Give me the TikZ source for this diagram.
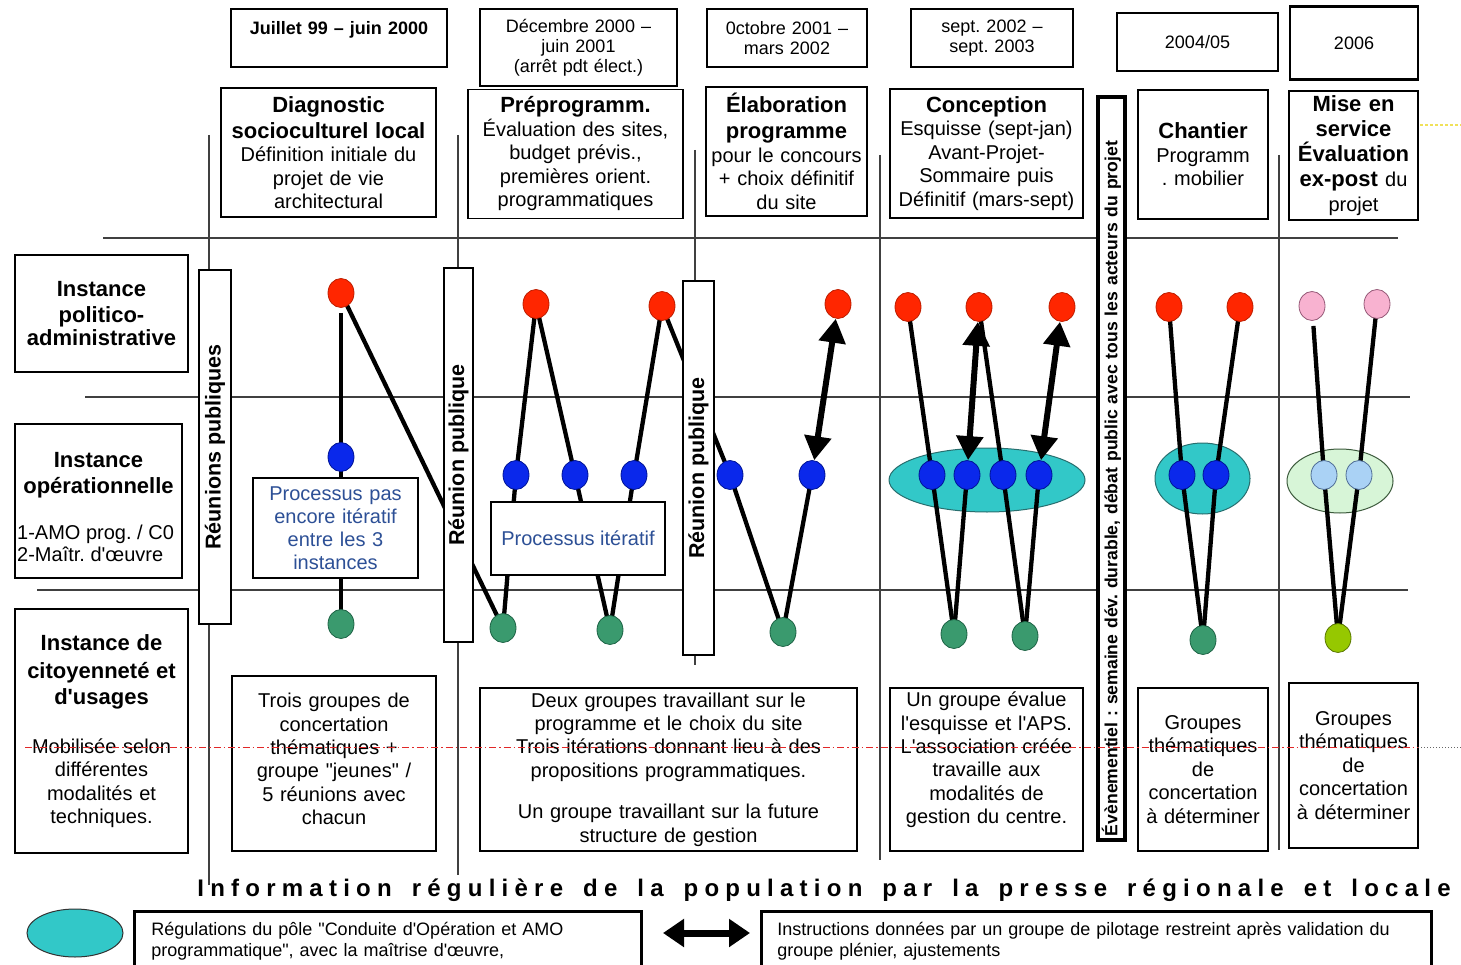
\documentclass[tikz,border=0pt]{standalone}
\usepackage{fontspec}
\setmainfont{Liberation Sans}
\newfontfamily\infofont[LetterSpace=26,WordSpace=1.55]{Liberation Sans}
\usetikzlibrary{shapes.geometric,arrows.meta}
\pgfdeclarelayer{bg}
\pgfdeclarelayer{mid}
\pgfsetlayers{bg,mid,main}
\frenchspacing
\newcommand{\myfs}[2]{\fontsize{#1}{#2}\selectfont}
\newcommand{\qd}{\textquotedbl}
\newcommand{\qs}{\textquotesingle}
\definecolor{dred}{RGB}{255,38,0}
\definecolor{dredb}{RGB}{190,30,0}
\definecolor{dblue}{RGB}{10,40,235}
\definecolor{dblueb}{RGB}{0,20,150}
\definecolor{dgreen}{RGB}{58,154,110}
\definecolor{dgreenb}{RGB}{30,100,70}
\definecolor{dpink}{RGB}{248,178,208}
\definecolor{dpinkb}{RGB}{150,90,120}
\definecolor{dlblue}{RGB}{170,210,245}
\definecolor{dlblueb}{RGB}{80,110,150}
\definecolor{dyg}{RGB}{150,200,0}
\definecolor{dygb}{RGB}{90,120,0}
\definecolor{regcyan}{RGB}{50,200,200}
\definecolor{regcyanb}{RGB}{40,110,110}
\definecolor{reglgreen}{RGB}{215,245,215}
\definecolor{reglgreenb}{RGB}{60,90,60}
\definecolor{proctext}{RGB}{45,80,150}
\definecolor{dashred}{RGB}{225,40,40}
\definecolor{yel}{RGB}{240,225,90}
\begin{document}
\begin{tikzpicture}[x=1pt,y=-1pt,
  gridline/.style={draw=black!75, line width=1.3pt},
  datebox/.style={draw, line width=2.6pt, align=center, inner sep=0pt, font=\myfs{18}{20}},
  phasebox/.style={draw, line width=1.1pt, align=center, inner sep=0pt, font=\myfs{20}{23.5}},
  labbox/.style={draw, line width=1.1pt, align=center, inner sep=0pt, font=\myfs{20}{23.5}},
  vbar/.style={draw, line width=2.4pt, fill=white, rotate=90, inner sep=0pt, font=\myfs{21.5}{24}\bfseries},
  procbox/.style={draw, line width=1.1pt, fill=white, align=center, inner sep=0pt, text=proctext, font=\myfs{20}{23}},
  descbox/.style={draw, line width=1.1pt, align=center, inner sep=0pt, font=\myfs{20}{23.4}},
  legbox/.style={draw, line width=2.6pt, anchor=north west, align=left, inner ysep=0pt, font=\myfs{18}{21}},
  dot/.style={ellipse, minimum width=26pt, minimum height=29pt, inner sep=0pt, line width=0.8pt},
  rdot/.style={dot, fill=dred, draw=dredb},
  bdot/.style={dot, fill=dblue, draw=dblueb},
  gdot/.style={dot, fill=dgreen, draw=dgreenb},
  pdot/.style={dot, fill=dpink, draw=dpinkb},
  lbdot/.style={dot, fill=dlblue, draw=dlblueb},
  ygdot/.style={dot, fill=dyg, draw=dygb},
  region/.style={ellipse, inner sep=0pt, line width=1pt},
  conn/.style={line width=4.3pt},
  dconn/.style={line width=6pt, {Triangle[width=26pt,length=24pt]}-{Triangle[width=26pt,length=24pt]}},
  legarrow/.style={line width=7pt, {Triangle[width=27pt,length=21pt]}-{Triangle[width=27pt,length=21pt]}}
]
\useasboundingbox (0,0) rectangle (1461,965);

% ---------- grid ----------
\begin{pgfonlayer}{bg}
\draw[gridline] (103,238) -- (1398,238);
\draw[gridline] (85,397) -- (1410,397);
\draw[gridline] (37,590) -- (1408,590);
\draw[gridline] (209,135) -- (209,885);
\draw[gridline] (458,135) -- (458,875);
\draw[gridline] (695,150) -- (695,665);
\draw[gridline] (880,155) -- (880,860);
\draw[gridline] (1279,155) -- (1279,850);
\end{pgfonlayer}

% ---------- date boxes ----------
\node[datebox, font=\myfs{18}{20}\bfseries, minimum width=216pt, minimum height=58pt, text width=210pt] (d1) at (339,38) {Juillet 99 – juin 2000\\\mbox{}};
\node[datebox, minimum width=197pt, minimum height=77pt, text width=190pt] (d2) at (578.5,47.5) {Décembre 2000 –\\juin 2001\\(arrêt pdt élect.)};
\node[datebox, minimum width=160pt, minimum height=58pt, text width=154pt] (d3) at (787,38) {0ctobre 2001 –\\mars 2002};
\node[datebox, minimum width=162pt, minimum height=58pt, text width=156pt] (d4) at (992,38) {sept. 2002 –\\sept. 2003};
\node[datebox, minimum width=161pt, minimum height=58pt, text height=13pt] (d5) at (1197.5,42) {2004/05};
\node[datebox, minimum width=128pt, minimum height=73pt, text height=13pt] (d6) at (1354,43) {2006};

% ---------- phase boxes ----------
\node[phasebox, minimum width=215pt, minimum height=129pt, text width=210pt] (ph1) at (328.5,152.5)
  {{\myfs{22}{26}\bfseries Diagnostic\\[2.5pt]socioculturel local}\\Définition initiale du\\projet de vie\\architectural};
\node[phasebox, minimum width=215pt, minimum height=129pt, text width=210pt] (ph2) at (575.5,154)
  {{\myfs{22}{26}\bfseries Préprogramm.}\\Évaluation des sites,\\budget prévis.,\\premières orient.\\programmatiques};
\node[phasebox, minimum width=161pt, minimum height=129pt, text width=156pt] (ph3) at (786.5,151.5)
  {{\myfs{22}{26}\bfseries Élaboration\\[2.5pt]programme}\\pour le concours\\+ choix définitif\\du site};
\node[phasebox, minimum width=193pt, minimum height=129pt, text width=188pt] (ph4) at (986.5,153.5)
  {{\myfs{22}{26}\bfseries Conception}\\Esquisse (sept-jan)\\Avant-Projet-\\Sommaire puis\\Définitif (mars-sept)};
\node[phasebox, minimum width=130pt, minimum height=129pt, text width=126pt] (ph5) at (1203,154.5)
  {{\myfs{22}{26}\bfseries Chantier}\\Programm\\. mobilier};
\node[phasebox, font=\myfs{22}{25}, minimum width=129pt, minimum height=129pt, text width=125pt] (ph6) at (1353.5,155.5)
  {\bfseries Mise en\\service\\Évaluation\\ex-post {\mdseries\myfs{20}{25}du}\\{\mdseries\myfs{20}{25}projet}};

% ---------- row labels ----------
\node[labbox, minimum width=173pt, minimum height=117pt, text width=168pt] (lab1) at (101.5,313.5)
  {{\myfs{22}{26}\bfseries Instance\\politico-\\administrative}};
\node[labbox, minimum width=167pt, minimum height=154pt] (lab2) at (98.5,501) {};
\node[font=\myfs{22}{26}\bfseries, align=center, inner sep=0pt] (lab2t) at (98.5,475) {Instance\\opérationnelle};
\node[font=\myfs{20}{22}, align=left, anchor=west, inner sep=0pt] (lab2s) at (17,543) {1-AMO prog. / C0\\2-Maîtr. d\qs œuvre};
\node[labbox, minimum width=173pt, minimum height=244pt, text width=168pt] (lab3) at (101.5,731)
  {{\myfs{22}{26}\bfseries Instance de\\[2.5pt]citoyenneté et\\[2.5pt]d\qs usages}\\[25pt]Mobilisée selon\\différentes\\modalités et\\techniques.};

% ---------- vertical bars ----------
\node[vbar, minimum width=354pt, minimum height=32pt] (rp1) at (215,447) {Réunions publiques};
\node[vbar, minimum width=374pt, minimum height=29pt] (rp2) at (458.5,455) {Réunion publique};
\node[vbar, minimum width=374pt, minimum height=31pt] (rp3) at (698.5,468) {Réunion publique};
\node[vbar, line width=3.5pt, minimum height=27pt, text width=735pt, align=left, inner xsep=4pt, font=\myfs{17.6}{20}\bfseries] (evt) at (1111.5,468.5)
  {Évènementiel : semaine dév. durable, débat public avec tous les acteurs du projet};

% ---------- regions ----------
\begin{pgfonlayer}{bg}
\node[region, fill=regcyan, draw=regcyanb, minimum width=196pt, minimum height=64pt] (E1) at (987,480) {};
\node[region, fill=regcyan, draw=regcyanb, minimum width=95pt, minimum height=71pt] (E2) at (1202.5,478.5) {};
\node[region, fill=reglgreen, draw=reglgreenb, minimum width=106pt, minimum height=64pt] (E3) at (1340,481) {};
\end{pgfonlayer}

% ---------- dots ----------
\foreach \n/\x/\y in {R1/341/293, R2/536/304, R3/662/306, R4/838/304, R5/908/307, R6/979/307, R7/1062/307, R8/1169/307, R9/1240/307}
  \node[rdot] (\n) at (\x,\y) {};
\foreach \n/\x/\y in {B1/341/457, B2/516/475, B3/575/475, B4/634/475, B5/730/475, B6/812/475, B7/932/475, B8/967/475, B9/1003/475, B10/1039/475, B11/1182/475, B12/1216/475}
  \node[bdot] (\n) at (\x,\y) {};
\foreach \n/\x/\y in {G1/341/624, G2/503/628, G3/610/630, G4/783/632, G5/954/634, G6/1025/636, G7/1203/640}
  \node[gdot] (\n) at (\x,\y) {};
\node[pdot] (P1) at (1312,306) {};
\node[pdot] (P2) at (1377,304) {};
\node[lbdot] (L1) at (1324,475) {};
\node[lbdot] (L2) at (1359,475) {};
\node[ygdot] (Y1) at (1338,638) {};

% ---------- connectors ----------
\begin{pgfonlayer}{mid}
\draw[conn, shorten <=20pt] (R1.center) -- (B1.center);
\foreach \a/\b in {B1/G1, R1/G2, G2/B2, B2/R2, R2/B3, B3/G3, G3/B4, B4/R3, R3/B5, B5/G4, G4/B6,
                   R5/B7, B7/G5, G5/B8, R6/B9, B9/G6, G6/B10,
                   R8/B11, B11/G7, G7/B12, B12/R9,
                   L1/Y1, Y1/L2, L2/P2}
  \draw[conn] (\a.center) -- (\b.center);
\draw[conn, shorten <=20pt] (P1.center) -- (L1.center);
\draw[dconn] (B6) -- (R4);
\draw[dconn] (B8) -- (R6);
\draw[dconn] (B10) -- (R7);
\end{pgfonlayer}

% ---------- process boxes ----------
\node[procbox, minimum width=165pt, minimum height=100pt, text width=160pt] (pr1) at (335.5,528)
  {Processus pas\\encore itératif\\entre les 3\\instances};
\node[procbox, minimum width=174pt, minimum height=73pt] (pr2) at (578,538.5) {Processus itératif};

% ---------- description boxes ----------
\node[descbox, minimum width=204pt, minimum height=175pt, text width=198pt] (ds1) at (334,763.5)
  {\mbox{}\\[-18pt]Trois groupes de\\concertation\\thématiques +\\groupe \qd jeunes\qd\ /\\5 réunions avec\\chacun};
\node[descbox, minimum width=377pt, minimum height=163pt, text width=360pt] (ds2) at (668.5,769.5)
  {Deux groupes travaillant sur le\\programme et le choix du site\\Trois itérations donnant lieu à des\\propositions programmatiques.\\[18pt]Un groupe travaillant sur la future\\structure de gestion};
\node[descbox, minimum width=193pt, minimum height=163pt, text width=188pt] (ds3) at (986.5,769.5)
  {Un groupe évalue\\l\qs esquisse et l\qs APS.\\L\qs association créée\\travaille aux\\modalités de\\gestion du centre.\\\mbox{}};
\node[descbox, minimum width=130pt, minimum height=163pt, text width=126pt] (ds4) at (1203,769.5)
  {Groupes\\thématiques\\de\\concertation\\à déterminer};
\node[descbox, minimum width=129pt, minimum height=165pt, text width=125pt] (ds5) at (1353.5,765.5)
  {Groupes\\thématiques\\de\\concertation\\à déterminer};

% ---------- bottom banner ----------
\node[font=\infofont\myfs{24}{28}\bfseries, inner sep=0pt] (info) at (824,890)
  {Information régulière de la population par la presse régionale et locale};

% ---------- legend ----------
\node[region, fill=regcyan, draw=black!80, minimum width=96pt, minimum height=48pt] (legE) at (75,933) {};
\node[legbox, minimum height=59pt, text width=473pt, inner xsep=17pt] (leg1) at (133,910)
  {Régulations du pôle \qd Conduite d\qs Opération et AMO\\programmatique\qd, avec la maîtrise d\qs œuvre,};
\coordinate (la1) at (663,933);
\coordinate (la2) at (750,933);
\draw[legarrow] (la1) -- (la2);
\node[legbox, minimum height=59pt, text width=638pt, inner xsep=16pt] (leg2) at (760,910)
  {Instructions données par un groupe de pilotage restreint après validation du\\groupe plénier, ajustements};

% ---------- stray guide lines ----------
\draw[dashred, line width=0.9pt, dash pattern=on 7pt off 3pt on 1.5pt off 3pt] (25,747) -- (1418,747);
\draw[black!60, line width=1pt, dotted] (1418,747) -- (1461,747);
\draw[yel, line width=1.6pt, dash pattern=on 3pt off 2pt] (1420,125) -- (1461,125);
\end{tikzpicture}
\end{document}
